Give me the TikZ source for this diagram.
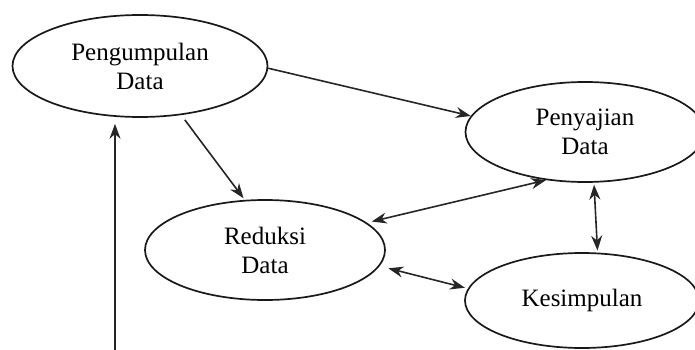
\documentclass[tikz,border=0pt]{standalone}
\usepackage{fontspec}
\setmainfont{Liberation Serif}
\usetikzlibrary{shapes.geometric,arrows.meta}
\begin{document}
\begin{tikzpicture}[x=1pt,y=-1pt,
  proc/.style={draw=black!90, line width=1.7pt, ellipse, inner sep=0pt,
    align=center, text=black, font=\fontsize{25}{29}\selectfont},
  conn/.style={line width=1.6pt, draw=black!85, -{Stealth[length=15pt,width=11pt]}},
  both/.style={conn, {Stealth[length=15pt,width=11pt]}-{Stealth[length=15pt,width=11pt]}}]
\useasboundingbox (0,0) rectangle (695,350);
\node[proc, minimum width=255pt, minimum height=102pt] (p) at (140,66) {Pengumpulan\\Data};
\node[proc, minimum width=239pt, minimum height=100pt] (s) at (585,132) {Penyajian\\Data};
\node[proc, minimum width=240pt, minimum height=100pt] (r) at (265,250) {Reduksi\\Data};
\node[proc, minimum width=234pt, minimum height=95pt] (k) at (582,300.5) {Kesimpulan};
\coordinate (b) at (115,350.8);
\draw[conn] (p.-1) -- (s.172);
\draw[conn, shorten <=6pt, shorten >=2pt] (p.-50) -- (r.112);
\draw[both, shorten <=5pt] (r.15) -- (s.-129);
\draw[both, shorten <=2pt, shorten >=2pt] (s.-80) -- (k.72);
\draw[both, shorten <=9pt, shorten >=3pt] (r.-8) -- (k.174);
\draw[conn, line width=1.4pt, shorten >=6pt] (k.south |- b) -- (b) -- (b |- p.south);
\end{tikzpicture}
\end{document}
